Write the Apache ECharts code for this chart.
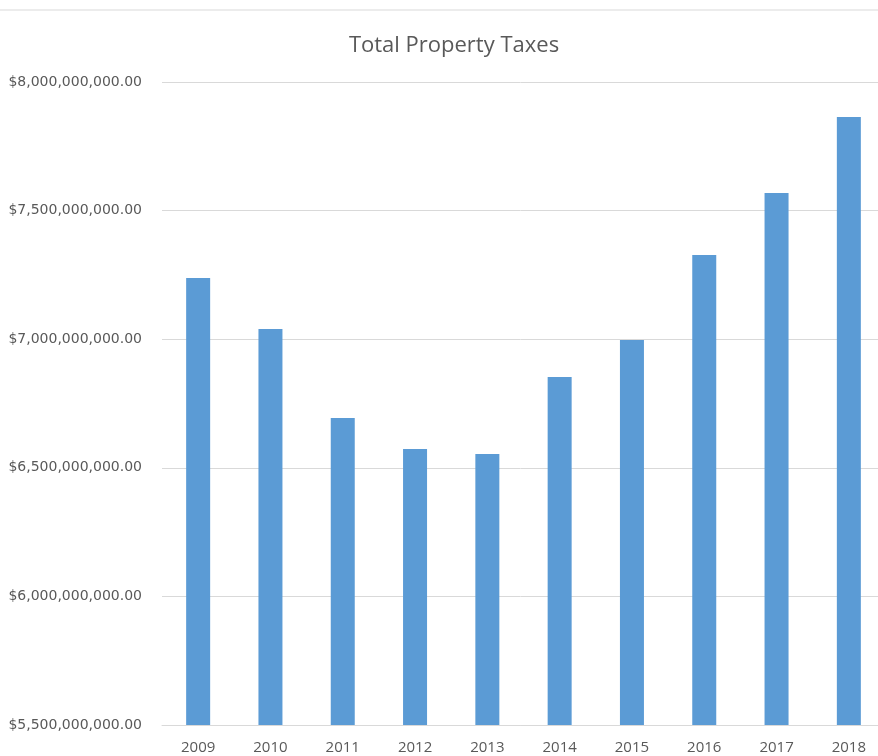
<!DOCTYPE html>
<html>
<head>
<meta charset="utf-8">
<script src="https://cdn.jsdelivr.net/npm/echarts@6/dist/echarts.min.js"></script>
<style>
  html, body { margin: 0; padding: 0; background: #fff; }
  #chart { width: 878px; height: 756px; }
</style>
</head>
<body>
<div id="chart"></div>
<script>
const years = ['2009', '2010', '2011', '2012', '2013', '2014', '2015', '2016', '2017', '2018'];
const totalTaxes = [7238000000, 7040000000, 6694000000, 6573000000, 6554000000,
                    6853000000, 6997000000, 7327000000, 7568000000, 7864000000];
const yMin = 5500000000;
const yMax = 8000000000;
const yStep = 500000000;

const chart = echarts.init(document.getElementById('chart'));

// Excel-style currency label: $7,500,000,000.00
const money = (v) => '$' + v.toLocaleString('en-US', {minimumFractionDigits: 2, maximumFractionDigits: 2});

chart.setOption({
    animation: false,
    title: {
        text: 'Total Property Taxes',
        left: 449,
        textAlign: 'center',
        top: 30,
        textStyle: {color: '#595959', fontSize: 22, fontWeight: 'normal', fontFamily: 'Open Sans'}
    },
    graphic: [{
        type: 'line',
        shape: {x1: 0, y1: 10, x2: 878, y2: 10},
        style: {stroke: '#d9d9d9', lineWidth: 1}
    }],
    // the plot runs past the right edge of the picture, so don't let it be squeezed in
    grid: {left: 162, top: 82, width: 723, height: 643, outerBoundsMode: 'none'},
    xAxis: {
        type: 'category',
        data: years,
        axisLine: {lineStyle: {color: '#d9d9d9'}},
        axisTick: {show: false},
        axisLabel: {color: '#595959', fontSize: 15, margin: 15, fontFamily: 'Open Sans'}
    },
    yAxis: {
        type: 'value',
        min: yMin,
        max: yMax,
        interval: yStep,
        axisLine: {show: false},
        axisTick: {show: false},
        splitLine: {lineStyle: {color: '#d9d9d9'}},
        axisLabel: {color: '#595959', fontSize: 14, margin: 20, fontFamily: 'DejaVu Sans', formatter: money}
    },
    series: [{
        type: 'bar',
        data: totalTaxes,
        barWidth: 24,
        itemStyle: {color: '#5b9bd5'}
    }]
});
</script>
</body>
</html>
